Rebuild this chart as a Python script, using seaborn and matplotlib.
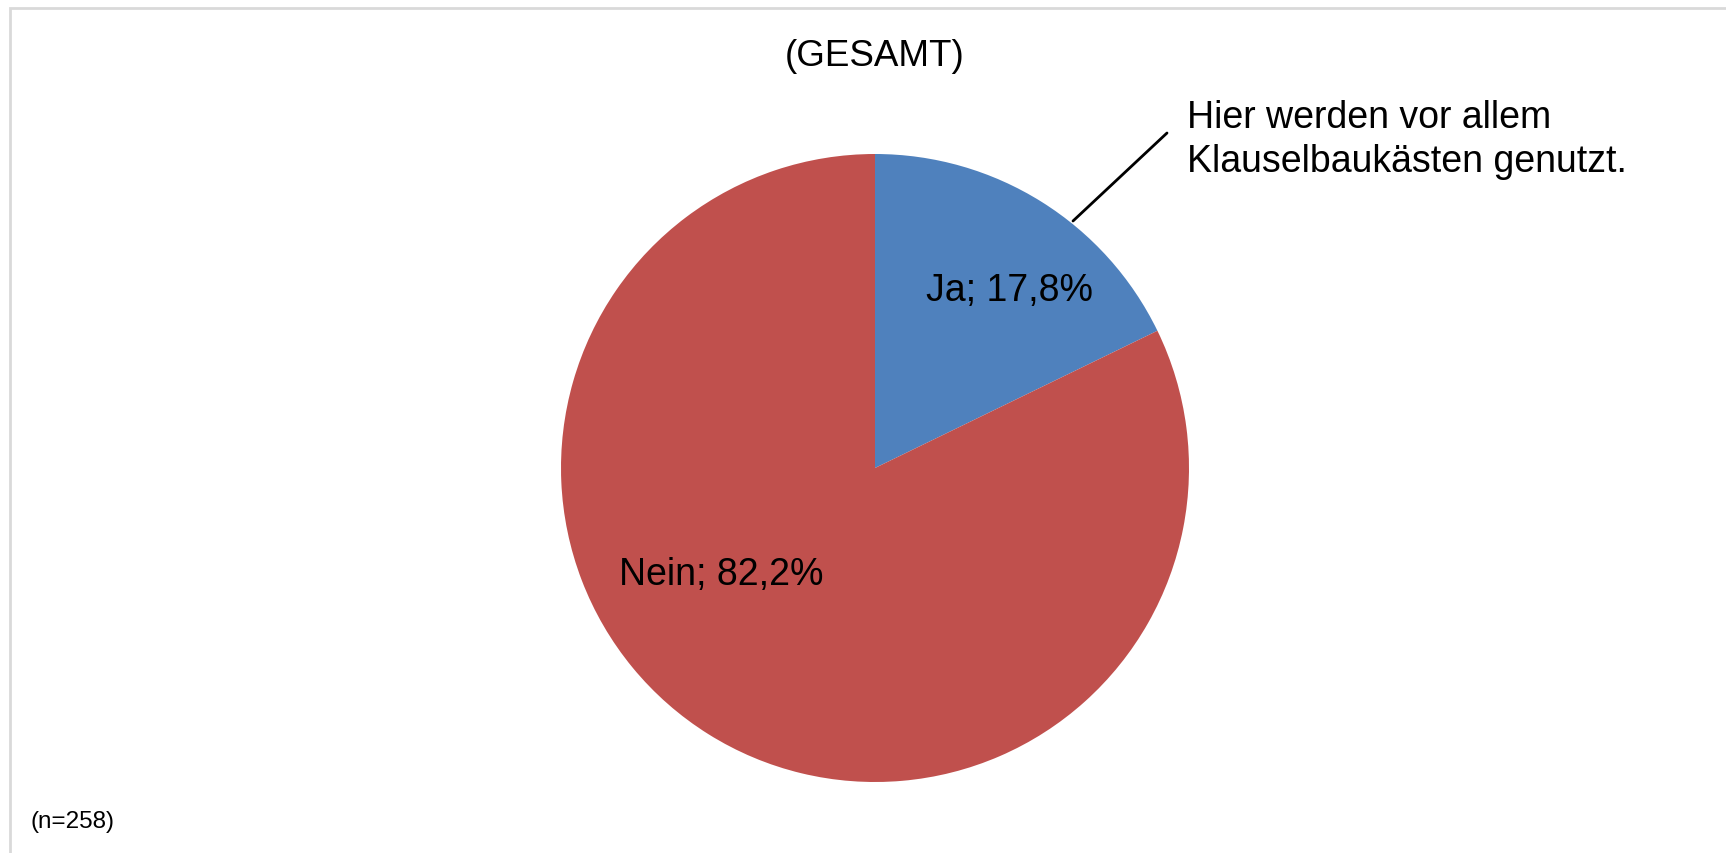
import matplotlib
matplotlib.use("Agg")
import matplotlib.pyplot as plt
import seaborn as sns
from matplotlib.patches import Rectangle

# ---- data ----
categories = ["Ja", "Nein"]
values = [17.8, 82.2]
colors = ["#4F81BD", "#C0504D"]
title = "(GESAMT)"
note = "(n=258)"
annotation = "Hier werden vor allem\nKlauselbaukästen genutzt."

sns.set_theme(style="white")
plt.rcParams['font.family'] = ['Liberation Sans', 'DejaVu Sans']

W, H = 1726, 854
fig = plt.figure(figsize=(W / 100, H / 100), dpi=100)
ax = fig.add_axes([0, 0, 1, 1])

cx, cy, r = 875, H - 469, 314
wedges, _ = ax.pie(values, colors=colors, startangle=90, counterclock=False,
                   center=(cx, cy), radius=r,
                   wedgeprops=dict(linewidth=0, antialiased=True))
ax.set_xlim(0, W)
ax.set_ylim(0, H)
ax.set_aspect("equal")
ax.axis("off")

def fmt(c, v):
    return f"{c}; {v:.1f}%".replace(".", ",")

ax.text(1009, H - 291, fmt(categories[0], values[0]), fontsize=27,
        ha="center", va="center", color="black")
ax.text(721, H - 575, fmt(categories[1], values[1]), fontsize=27,
        ha="center", va="center", color="black")

# annotation
ax.text(1187, H - 140, annotation, fontsize=27, ha="left", va="center",
        color="black", linespacing=1.32)
ax.plot([1073, 1167], [H - 222, H - 134], color="black", lw=2)

# title
ax.text(875, H - 56, title, fontsize=26.5, ha="center", va="center", color="black")
# note
ax.text(30, H - 822, note, fontsize=17.5, ha="left", va="center", color="black")

# chart border (light gray, open to right and bottom)
ax.add_patch(Rectangle((10, -20), W + 20, H - 9 + 20, fill=False,
                       edgecolor="#D9D9D9", lw=2, clip_on=False))

fig.savefig("out.png", dpi=100, facecolor="white")
